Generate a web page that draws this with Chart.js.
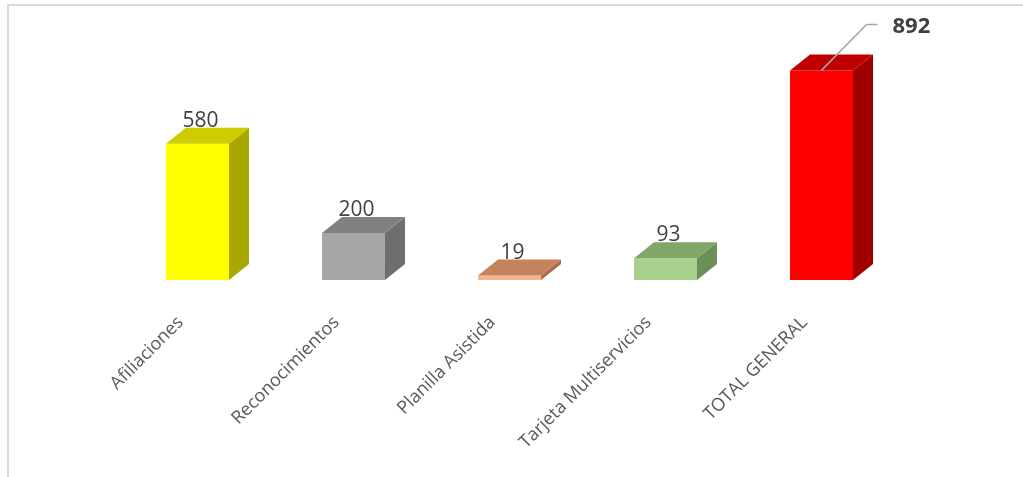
<!DOCTYPE html>
<html>
<head>
<meta charset="utf-8">
<script src="https://cdn.jsdelivr.net/npm/chart.js@4/dist/chart.umd.min.js"></script>
<style>
    html, body { margin: 0; padding: 0; background: #fff; overflow: hidden; }
    #wrap { position: relative; width: 1023px; height: 477px; }
    #frame {
        position: absolute; left: 7px; top: 4px; right: -10px; bottom: -10px;
        border-top: 2px solid #d9d9d9; border-left: 2px solid #d9d9d9;
    }
    canvas { position: absolute; left: 0; top: 0; }
</style>
</head>
<body>
<div id="wrap">
    <div id="frame"></div>
    <canvas id="chart" width="1023" height="477"></canvas>
</div>
<script>
// Trámites por tipo
const categorias = ['Afiliaciones', 'Reconocimientos', 'Planilla Asistida', 'Tarjeta Multiservicios', 'TOTAL GENERAL'];
const valores = [580, 200, 19, 93, 892];

// cara frontal, cara superior y cara lateral de cada barra
const colorFrente = ['#ffff00', '#a6a6a6', '#f6b68a', '#a9d18e', '#ff0000'];
const colorArriba = ['#cccc00', '#808080', '#c4835d', '#80a768', '#c00000'];
const colorLado = ['#a8a800', '#6e6e6e', '#a86b4c', '#6b8f57', '#a00000'];

const FONT = '"Open Sans", "Liberation Sans", sans-serif';

// Dibuja las caras de profundidad y las etiquetas de valor
const barras3d = {
    id: 'barras3d',
    afterDatasetsDraw(chart) {
        const ctx = chart.ctx;
        const meta = chart.getDatasetMeta(0);
        const dx = 20, dy = 16;
        meta.data.forEach((bar, i) => {
            const p = bar.getProps(['x', 'y', 'base', 'width'], true);
            const l = p.x - p.width / 2, r = p.x + p.width / 2;
            ctx.save();
            // lateral
            ctx.fillStyle = colorLado[i];
            ctx.beginPath();
            ctx.moveTo(r, p.y);
            ctx.lineTo(r + dx, p.y - dy);
            ctx.lineTo(r + dx, p.base - dy);
            ctx.lineTo(r, p.base);
            ctx.closePath();
            ctx.fill();
            // superior
            ctx.fillStyle = colorArriba[i];
            ctx.beginPath();
            ctx.moveTo(l, p.y);
            ctx.lineTo(l + dx, p.y - dy);
            ctx.lineTo(r + dx, p.y - dy);
            ctx.lineTo(r, p.y);
            ctx.closePath();
            ctx.fill();

            const texto = String(valores[i]);
            if (i === valores.length - 1) {
                // total con línea guía
                ctx.strokeStyle = '#a6a6a6';
                ctx.lineWidth = 1.5;
                ctx.beginPath();
                ctx.moveTo(p.x, p.y);
                ctx.lineTo(p.x + 45, p.y - 46);
                ctx.lineTo(p.x + 56, p.y - 46);
                ctx.stroke();
                ctx.fillStyle = '#404040';
                ctx.font = 'bold 22px ' + FONT;
                ctx.textAlign = 'left';
                ctx.textBaseline = 'middle';
                ctx.fillText(texto, p.x + 71, p.y - 44);
            } else {
                ctx.fillStyle = '#404040';
                ctx.font = '21px ' + FONT;
                ctx.textAlign = 'center';
                ctx.textBaseline = 'alphabetic';
                ctx.fillText(texto, p.x + 3, p.y - dy - 1);
            }
            ctx.restore();
        });
    }
};

new Chart(document.getElementById('chart'), {
    type: 'bar',
    data: {
        labels: categorias,
        datasets: [{
            data: valores,
            backgroundColor: colorFrente,
            borderWidth: 0,
            categoryPercentage: 1,
            barPercentage: 0.404
        }]
    },
    options: {
        responsive: false,
        animation: false,
        layout: { padding: { left: 119.5, right: 123.5, top: 45, bottom: 0 } },
        plugins: { legend: { display: false }, tooltip: { enabled: false } },
        scales: {
            x: {
                grid: { display: false, drawTicks: false },
                border: { display: false },
                ticks: {
                    color: '#595959',
                    font: { family: FONT, size: 18 },
                    minRotation: 45,
                    maxRotation: 45,
                    padding: 32,
                    labelOffset: -17,
                    autoSkip: false
                },
                afterFit(scale) { scale.height = 197; }
            },
            y: {
                display: false,
                min: 0,
                max: 1000
            }
        }
    },
    plugins: [barras3d]
});
</script>
</body>
</html>
